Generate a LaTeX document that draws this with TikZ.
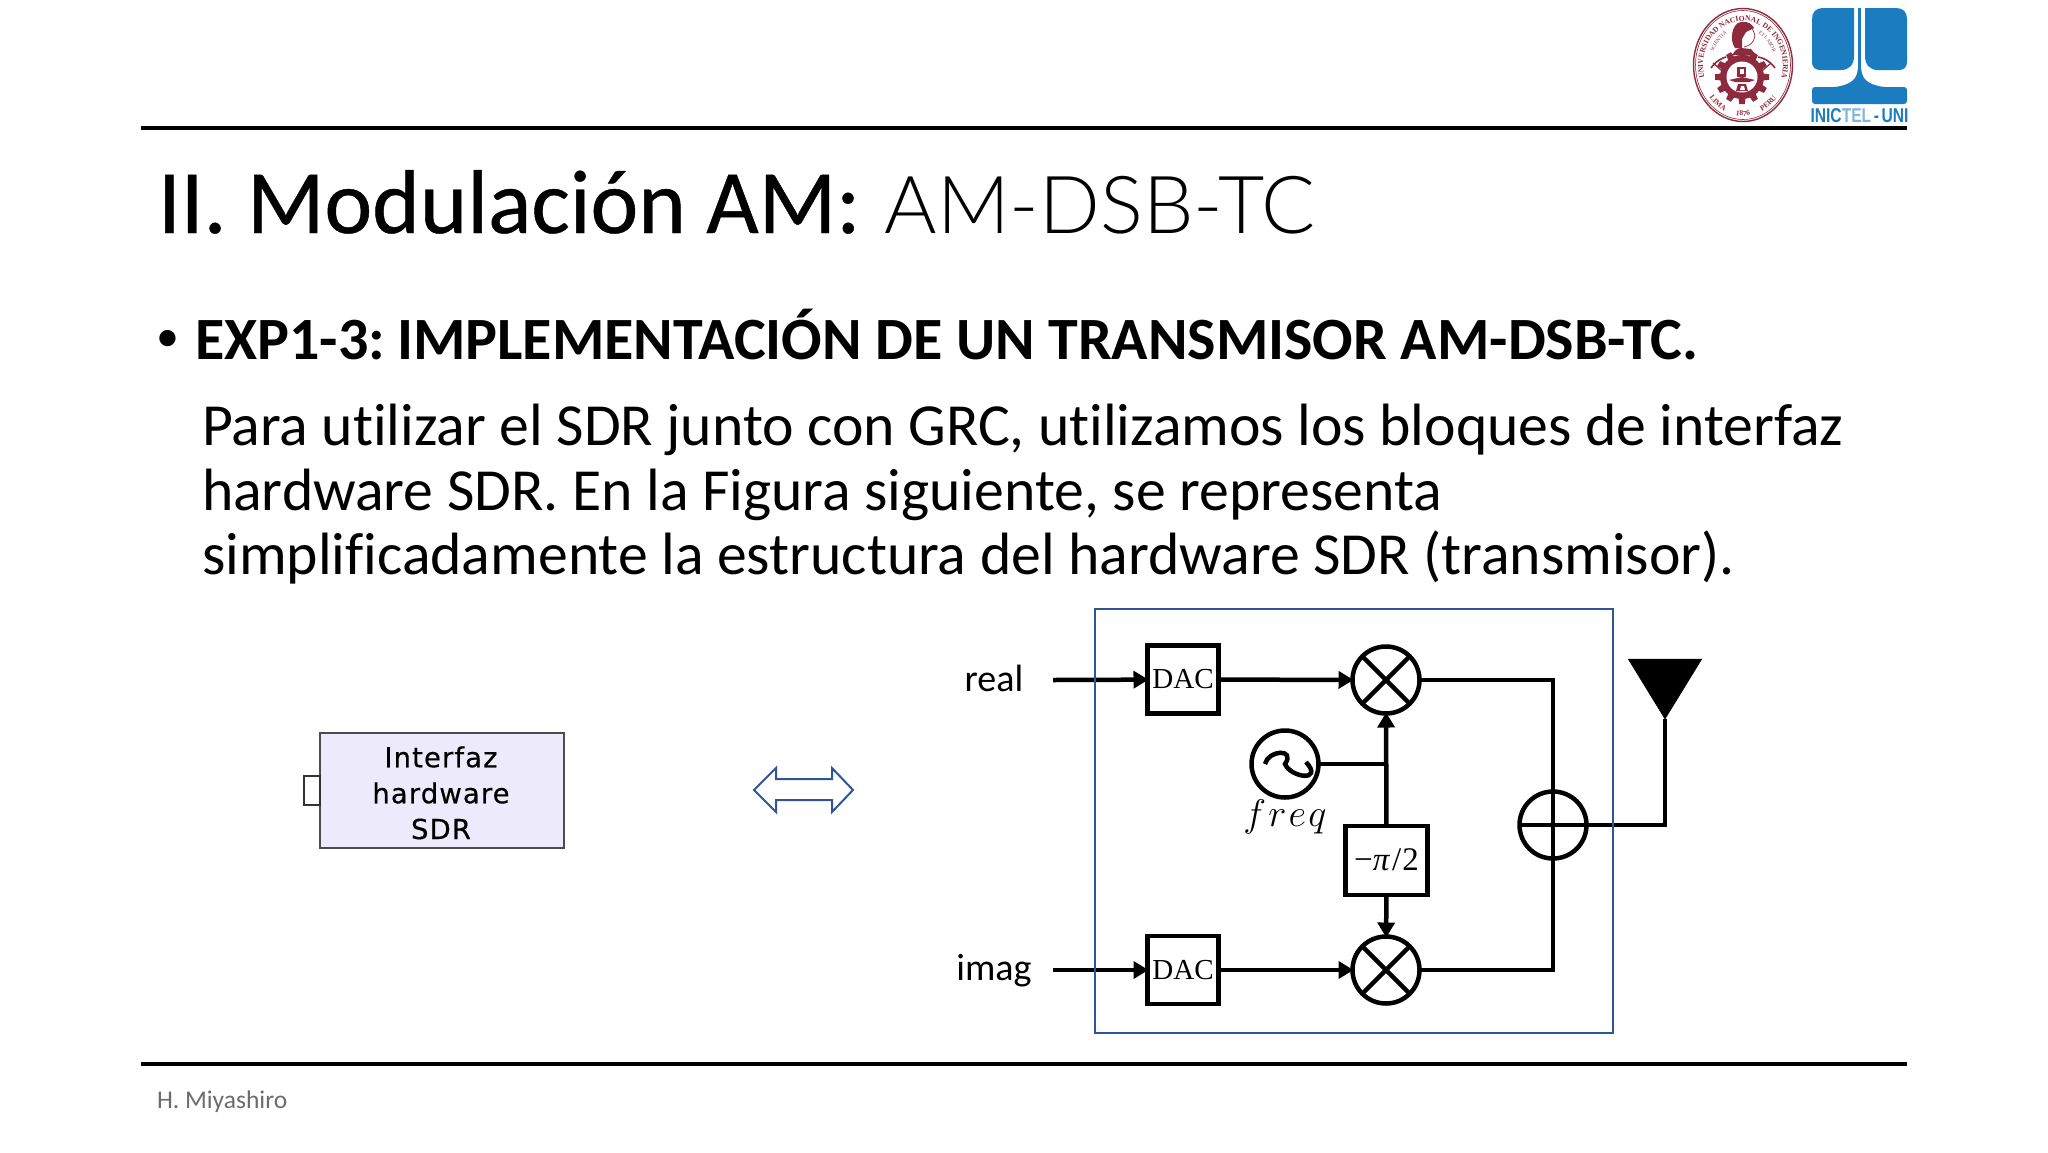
\documentclass[tikz,border=0pt]{standalone}
\usepackage{fontspec}
\setmainfont[Ligatures=CommonOff]{Carlito}
\newfontfamily\litefont{Lato Light}
\newfontfamily\ttlfont[FakeBold=0.5]{Carlito}
\newfontfamily\djv[FakeBold=0.4,LetterSpace=4]{DejaVu Sans}
\newfontfamily\tms{Liberation Serif}
\newfontfamily\logofont{Liberation Sans}
\usetikzlibrary{arrows.meta,decorations.text,shapes.arrows,shapes.geometric}
\definecolor{frameblue}{HTML}{2F5597}
\definecolor{sealred}{HTML}{8E2A3E}
\definecolor{logoblue}{HTML}{1B7CC0}
\definecolor{blockfill}{HTML}{ECEAFB}
\newcommand{\fs}[1]{\fontsize{#1}{#1}\selectfont}
\tikzset{
  x=1pt,y=-1pt,
  wire/.style={line width=4.5pt,black},
  sig/.style={wire,-{Triangle[length=15pt,width=17pt]},shorten >=-1pt},
  dacbox/.style={draw=black,line width=4.5pt,minimum width=71pt,minimum height=68pt,inner sep=0,outer sep=0,font=\tms\fs{29}},
  ring/.style={circle,draw=black,line width=4.5pt,minimum size=67pt,inner sep=0,outer sep=0},
  txt/.style={anchor=base west,inner sep=0,outer sep=0,text=black},
  rule/.style={line width=3.2pt,black},
  lab/.style={font=\fs{38},inner sep=0,text=black},
  itext/.style={align=center,font=\djv\fs{27.5},inner sep=0,text=black},
  sealtext/.style={decorate,decoration={text along path,text align=center,text color=sealred,text={#1}}}
}
\begin{document}
\begin{tikzpicture}
\useasboundingbox (0,0) rectangle (2048,1152);
\fill[white] (0,0) rectangle (2048,1152);
% rules
\coordinate (ra) at (141,128); \coordinate (rb) at (1907,128);
\coordinate (rc) at (141,1064); \coordinate (rd) at (1907,1064);
\draw[rule] (ra) -- (rb);
\draw[rule] (rc) -- (rd);
% texts
\node[txt] (title) at (158,233) {{\ttlfont\fs{90.6}II. Modulación AM:}\hspace{24pt}{\litefont\fs{80}AM-DSB-TC}};
\node[txt] (bul) at (156,351) {\fs{46}•};
\node[txt] (head) at (195,359) {\fs{60}\bfseries EXP1-3:\hspace{-6pt} IMPLEMENTACIÓN DE UN TRANSMISOR AM-DSB-TC.};
\node[txt] (l1) at (202,445) {\fs{59.7}Para utilizar el SDR junto con GRC, utilizamos los bloques de interfaz};
\node[txt] (l2) at (202,510) {\fs{59.7}hardware SDR. En la Figura siguiente, se representa};
\node[txt] (l3) at (202,574) {\fs{59.7}simplificadamente la estructura del hardware SDR (transmisor).};
\node[txt,text=gray!85!black] (foot) at (157,1108) {\fs{25.5}H. Miyashiro};
% left block
\node[draw=black!70,line width=1.5pt,fill=blockfill,minimum width=244pt,minimum height=115pt,inner sep=0,outer sep=0] (iface) at (442,790.5) {};
\node[draw=black!80,line width=2.5pt,fill=white,minimum width=16pt,minimum height=29pt,inner sep=0,outer sep=0,anchor=east] (port) at (iface.west) {};
\node[itext] (it1) at (441,757) {Interfaz};
\node[itext] (it2) at (441,793) {hardware};
\node[itext] (it3) at (441,829) {SDR};
% double arrow
\draw[frameblue,line width=2pt,line join=miter] (754,790) -- (776,768) -- (776,779) -- (832,779) -- (832,768) -- (853,790) -- (832,812) -- (832,800) -- (776,800) -- (776,812) -- cycle;
% diagram
\node[dacbox] (dac1) at (1183,679.5) {DAC};
\node[dacbox] (dac2) at (1183,970) {DAC};
\node[ring] (m1) at (1386,680) {};
\node[ring] (m2) at (1386,970) {};
\draw[wire] (m1.45) -- (m1.225) (m1.135) -- (m1.315);
\draw[wire] (m2.45) -- (m2.225) (m2.135) -- (m2.315);
\node[ring] (osc) at (1285,764) {};
\draw[line width=4.5pt] (osc.center) ++(-20,0) .. controls +(3,-14) and +(11,-16) .. (osc.center) .. controls +(6,14) and +(18,20) .. ++(21,-2);
\node[inner sep=0,font=\fs{24.88},scale=1.55,transform shape] (fr) at (1285,817) {$f\hspace{1.5pt}r\hspace{1.5pt}e\hspace{1.5pt}q$};
\node[draw=black,line width=4.5pt,minimum width=82pt,minimum height=69pt,inner sep=0,outer sep=0,font=\tms\fs{33}] (ph) at (1386.5,860.5) {\raisebox{2pt}{−\textit{π}\hspace{2pt}/\hspace{1pt}2}};
\node[ring] (sum) at (1553,825) {};
\node[lab] (re) at (994,678) {real};
\node[lab] (im) at (994,971) {imag};
\coordinate (in1) at (1053,680);
\coordinate (in2) at (1053,970);
\draw[sig] (in1) -- (dac1);
\draw[sig] (in2) -- (dac2);
\draw[sig] (dac1) -- (m1);
\draw[sig] (dac2) -- (m2);
\draw[sig] (ph) -- (m1);
\draw[sig] (ph) -- (m2);
\draw[wire] (osc) -- (osc -| m1);
\draw[wire,line join=miter] (m1) -- (m1 -| sum) -- (sum);
\draw[wire,line join=miter] (m2) -- (m2 -| sum) -- (sum);
\draw[wire] (sum.north) -- (sum.south) (sum.west) -- (sum.east);
\node[draw=black,fill=black,isosceles triangle,isosceles triangle apex angle=63,shape border rotate=-90,minimum height=60pt,inner sep=0,outer sep=0,line width=0.5pt,anchor=apex] (ant) at (1665,719) {};
\draw[wire,line join=miter] (sum) -- (sum -| ant.apex) -- (ant.apex);
\node[draw=frameblue,line width=2pt,minimum width=518pt,minimum height=424pt,inner sep=0,outer sep=0] (frame) at (1354,821) {};
% seal (y upward inside)
\begin{scope}[shift={(1743,65)},y=1pt]
  \draw[sealred,line width=1.4pt] (0,0) ellipse (49.5 and 56.5);
  \draw[sealred,line width=0.6pt] (0,0) ellipse (47.5 and 54.5);
  \path[sealtext={|\tms\fs{7.6}\bfseries|UNIVERSIDAD NACIONAL DE INGENIERIA}] (207:40 and 44) arc[start angle=207,end angle=-27,x radius=40,y radius=44];
  \path[sealtext={|\tms\fs{7.4}\bfseries|LIMA}] (220:44 and 51) arc[start angle=220,end angle=245,x radius=44,y radius=51];
  \path[sealtext={|\tms\fs{7.4}\bfseries|1876}] (257:44 and 51) arc[start angle=257,end angle=283,x radius=44,y radius=51];
  \path[sealtext={|\tms\fs{7.4}\bfseries|PERU}] (295:44 and 51) arc[start angle=295,end angle=320,x radius=44,y radius=51];
  \path[sealtext={|\tms\fs{5}|SCIENTIA}] (162:32 and 36) arc[start angle=162,end angle=116,x radius=32,y radius=36];
  \path[sealtext={|\tms\fs{5}|ET LABOR}] (64:32 and 36) arc[start angle=64,end angle=18,x radius=32,y radius=36];
  % bust and helmet
  \fill[sealred] (-11,10) .. controls (-8,15) and (-5,17) .. (-2,17) -- (8,16) .. controls (10,13) and (13,11) .. (14,9) -- cycle;
  \fill[sealred] (-8,17) .. controls (-14,25) and (-11,42) .. (-2,43) .. controls (5,44) and (9,41) .. (11,37) -- (3,33) -- (-1,26) -- (-1,17) -- cycle;
  \draw[sealred,line width=0.7pt] (9,37) .. controls (11,32) and (13,30) .. (11,26) .. controls (10,22) and (6,19) .. (1,18);
  % swords
  \draw[sealred,line width=1.6pt] (-32,-3) .. controls (-27,4) and (-21,7) .. (-17,8);
  \draw[sealred,line width=1.6pt] (32,-3) .. controls (27,4) and (21,7) .. (15,8);
  \draw[sealred,line width=1.2pt] (-30,2) -- (-14,-12) (28,2) -- (12,-12);
  % gear
  \foreach \a in {0,30,...,330}{
    \fill[sealred,shift={(-1,-12)},rotate=\a] (20,-3.6) -- (27,-2.8) -- (27,2.8) -- (20,3.6) -- cycle;
  }
  \fill[sealred] (-1,-12) circle (22);
  \fill[white] (-1,-12) circle (15.5);
  % gear centre emblem
  \fill[sealred] (-6,-2) rectangle (3,-12);
  \fill[white] (-3.5,-4) rectangle (0.5,-9);
  \fill[sealred] (-14,-15) -- (-1,-12) -- (12,-15) -- (6,-17) -- (-8,-17) -- cycle;
  \fill[sealred] (-5,-19) -- (3,-19) -- (5,-26) -- (-7,-26) -- cycle;
  \fill[white] (-2,-21) -- (1,-21) -- (2,-25) -- (-3,-25) -- cycle;
\end{scope}
% INICTEL logo
\fill[logoblue] (1854,8) -- (1854,56) .. controls (1854,65) and (1849,70) .. (1841,70) -- (1820,70) .. controls (1815,70) and (1812,67) .. (1812,62) -- (1812,19) .. controls (1812,12) and (1816,8) .. (1823,8) -- cycle;
\fill[logoblue] (1865,8) -- (1865,56) .. controls (1865,65) and (1870,70) .. (1878,70) -- (1899,70) .. controls (1904,70) and (1907,67) .. (1907,62) -- (1907,19) .. controls (1907,12) and (1903,8) .. (1896,8) -- cycle;
\fill[logoblue] (1858,8) rectangle (1861,70);
\fill[logoblue,rounded corners=3pt] (1812,104) -- (1812,87) -- (1836,87) .. controls (1850,84) and (1857,80) .. (1858,66) -- (1861,66) .. controls (1862,80) and (1869,84) .. (1883,87) -- (1907,87) -- (1907,104) -- cycle;
\node[inner sep=0,outer sep=0,text=logoblue,font=\logofont\bfseries\fs{20},xscale=0.78,anchor=base] (inictel) at (1859.5,122) {INIC{\color{logoblue!55}TEL}\,-\,UNI};
\end{tikzpicture}
\end{document}
